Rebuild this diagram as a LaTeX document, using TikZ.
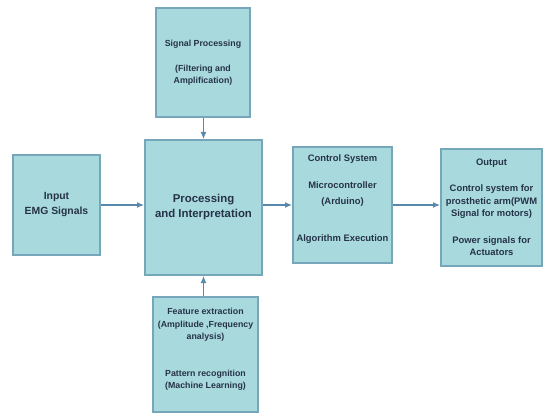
\documentclass[tikz,border=0pt]{standalone}
\usepackage{fontspec}
\setmainfont{Liberation Sans}
\usepackage{tikz}
\usetikzlibrary{arrows.meta}
\definecolor{boxfill}{RGB}{168,218,221}
\definecolor{boxline}{RGB}{118,166,186}
\definecolor{boxtext}{RGB}{38,50,72}
\definecolor{arrowcol}{RGB}{88,136,172}
\tikzset{>={Latex[length=7pt,width=6pt]}}
\tikzset{block/.style={draw=boxline, fill=boxfill, line width=2pt, text=boxtext, align=center, font=\bfseries, inner sep=0pt}}
\tikzset{link/.style={->, arrowcol, line width=1.2pt}}

\begin{document}
\begin{tikzpicture}[x=1pt, y=-1pt]
    \useasboundingbox (0, 0) rectangle (543, 414);
    \node[block, minimum width=94, minimum height=109, font=\bfseries\fontsize{8.8}{12}\selectfont] (sig) at (203, 62.5)
        {Signal Processing\\[13pt](Filtering and\\Amplification)};
    \node[block, minimum width=87, minimum height=100, font=\bfseries\fontsize{10.4}{15}\selectfont] (inp) at (56.5, 205)
        {Input\\EMG Signals};
    \node[block, minimum width=117, minimum height=135, font=\bfseries\fontsize{11.4}{15}\selectfont] (proc) at (203.5, 207.5)
        {Processing\\and Interpretation};
    \node[block, minimum width=99, minimum height=116, font=\bfseries\fontsize{9.4}{13}\selectfont] (ctrl) at (342.5, 205)
        {Control System\\[14pt]Microcontroller\\[3pt](Arduino)\\[24pt]Algorithm Execution\\[1pt]\mbox{}};
    \node[block, minimum width=101, minimum height=117, font=\bfseries\fontsize{9.4}{12.5}\selectfont] (out) at (491.5, 207.5)
        {Output\\[14pt]Control system for\\prosthetic arm(PWM\\Signal for motors)\\[14pt]Power signals for\\Actuators};
    \node[block, minimum width=105, minimum height=115, font=\bfseries\fontsize{8.8}{12.5}\selectfont] (feat) at (205.5, 354.5)
        {Feature extraction\\(Amplitude ,Frequency\\analysis)\\[24pt]Pattern recognition\\(Machine Learning)\\[-1pt]\mbox{}};
    % connections
    \draw[link] (sig.south -| proc) -- (proc.north);
    \draw[link] (inp) -- (inp -| proc.west);
    \draw[link] (proc.east |- ctrl) -- (ctrl.west);
    \draw[link] (ctrl) -- (ctrl -| out.west);
    \draw[link] (feat.north -| proc) -- (proc.south);
\end{tikzpicture}
\end{document}
